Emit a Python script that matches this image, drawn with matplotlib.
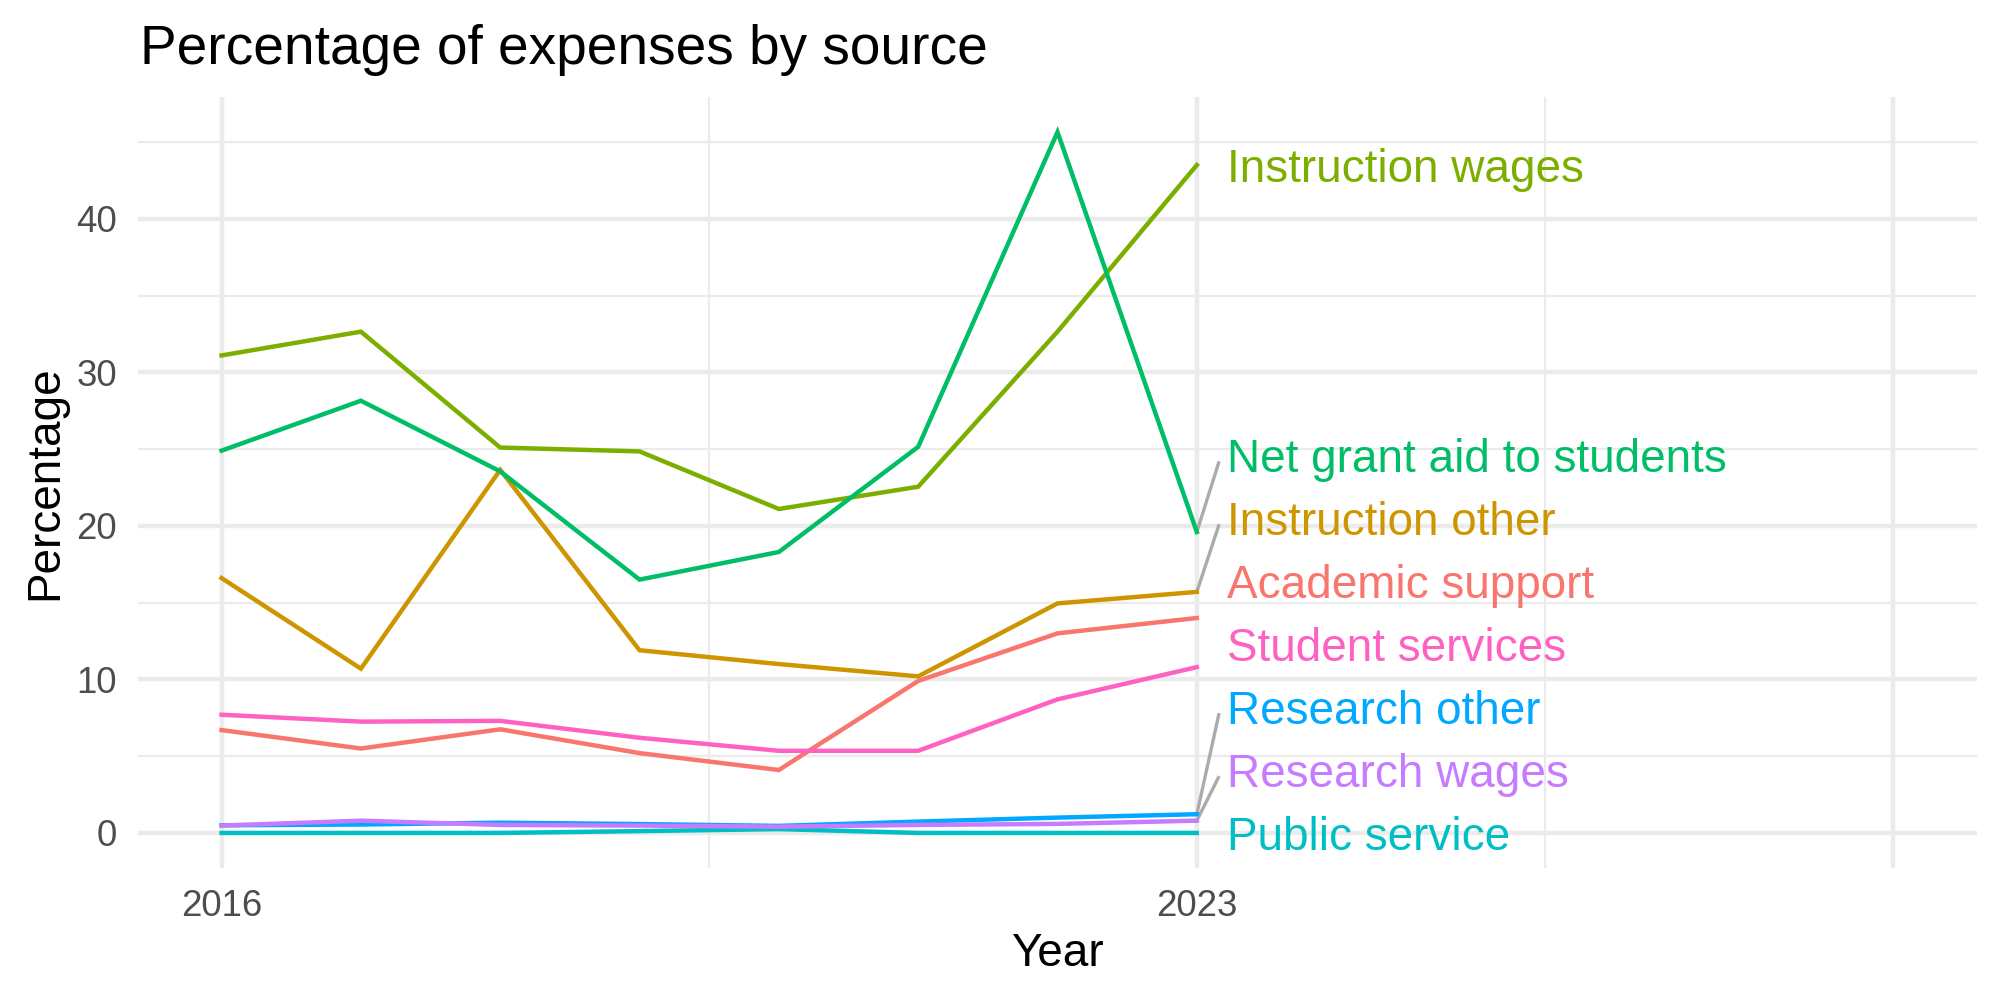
import matplotlib
matplotlib.use("Agg")
import matplotlib.pyplot as plt

plt.rcParams['font.family'] = ['Liberation Sans', 'DejaVu Sans']

# Share of expenses per source, 2016 - 2023
years = [2016, 2017, 2018, 2019, 2020, 2021, 2022, 2023]

sources = ["Academic support", "Instruction other", "Instruction wages",
           "Net grant aid to students", "Public service", "Research other",
           "Research wages", "Student services"]

academic_support = [6.7, 5.5, 6.75, 5.2, 4.1, 9.9, 13.0, 14.0]
instruction_other = [16.6, 10.7, 23.65, 11.9, 11.0, 10.2, 14.95, 15.7]
instruction_wages = [31.1, 32.65, 25.1, 24.85, 21.1, 22.55, 32.65, 43.5]
net_grant_aid = [24.9, 28.15, 23.55, 16.5, 18.3, 25.15, 45.65, 19.6]
public_service = [0.0, 0.0, 0.0, 0.12, 0.25, 0.0, 0.0, 0.0]
research_other = [0.5, 0.55, 0.67, 0.58, 0.46, 0.74, 1.0, 1.22]
research_wages = [0.48, 0.8, 0.52, 0.48, 0.41, 0.52, 0.59, 0.8]
student_services = [7.7, 7.25, 7.3, 6.2, 5.35, 5.35, 8.7, 10.8]

series = [academic_support, instruction_other, instruction_wages, net_grant_aid,
          public_service, research_other, research_wages, student_services]

# ggplot hue palette for 8 groups
colors = ["#F8766D", "#CD9600", "#7CAE00", "#00BE67",
          "#00BFC4", "#00A9FF", "#C77CFF", "#FF61C3"]

x_breaks = [2016, 2023, 2028]
x_labels = ["2016", "2023", ""]
x_minor = [2019.5, 2025.5]
y_breaks = [0, 10, 20, 30, 40]
y_minor = [5, 15, 25, 35, 45]

GRID = "#EBEBEB"
TEXT_GREY = "#4D4D4D"


def stack_labels(values, gap):
    """ Push end labels apart (bottom up) so they don't overlap """
    order = sorted(range(len(values)), key=lambda i: values[i])
    placed = [0.0] * len(values)
    prev = None
    for i in order:
        y = values[i] if prev is None else max(values[i], prev + gap)
        placed[i] = y
        prev = y
    return placed


fig = plt.figure(figsize=(10, 5), dpi=200)
ax = fig.add_axes([0.069, 0.132, 0.9195, 0.771])

# Limits like ggplot: 5% expansion on each side
all_vals = [v for s in series for v in s]
lo, hi = min(all_vals), max(all_vals)
ax.set_ylim(lo - 0.05 * (hi - lo), hi + 0.05 * (hi - lo))
ax.set_xlim(2016 - 0.05 * 12, 2028 + 0.05 * 12)

# Grid (theme_minimal look)
for xb in x_breaks:
    ax.axvline(xb, color=GRID, lw=1.6, zorder=0)
for xm in x_minor:
    ax.axvline(xm, color=GRID, lw=0.8, zorder=0)
for yb in y_breaks:
    ax.axhline(yb, color=GRID, lw=1.6, zorder=0)
for ym in y_minor:
    ax.axhline(ym, color=GRID, lw=0.8, zorder=0)

for vals, col in zip(series, colors):
    ax.plot(years, vals, color=col, lw=1.6, solid_joinstyle='miter', zorder=2)

# Direct labels at the right end of each line
last_vals = [s[-1] for s in series]
label_y = stack_labels(last_vals, 4.1)
for name, col, yv, ly in zip(sources, colors, last_vals, label_y):
    if abs(ly - yv) > 2.5:
        ax.plot([years[-1], 2023.16], [yv, ly - 0.4], color="#ABABAB",
                lw=1.2, zorder=1, solid_capstyle='butt')
    ax.text(2023.22, ly, name, color=col, fontsize=16.5,
            ha='left', va='center_baseline', zorder=3)

ax.set_xticks(x_breaks)
ax.set_xticklabels(x_labels)
ax.set_yticks(y_breaks)
ax.tick_params(length=0, labelsize=13.2, labelcolor=TEXT_GREY, pad=7.5)
for side in ["top", "right", "bottom", "left"]:
    ax.spines[side].set_visible(False)

fig.text(0.5289, 1 - 966 / 1000, "Year", fontsize=16.5, ha='center', va='baseline')
fig.text(0.0225, 0.5175, "Percentage", fontsize=16.5, rotation=90,
         ha='center', va='center')
fig.text(0.07, 1 - 64 / 1000, "Percentage of expenses by source",
         fontsize=19.8, ha='left', va='baseline')

fig.savefig("out.png", dpi=200, facecolor="white")
